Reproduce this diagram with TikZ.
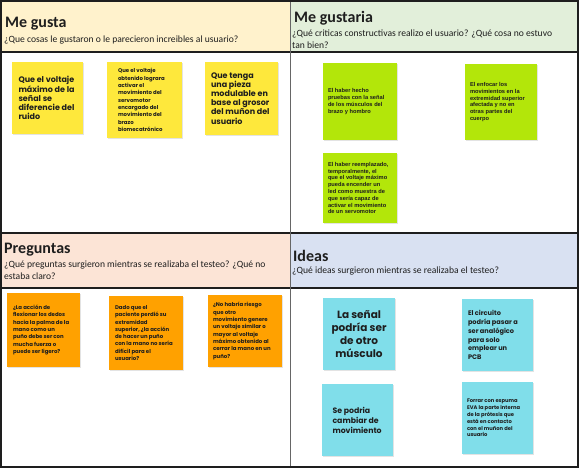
\documentclass[tikz,border=0pt]{standalone}
\usepackage{fontspec}
\setmainfont{Carlito}
\newfontfamily\notefont{Poppins}
\newfontfamily\arialfont{Liberation Sans}
\usetikzlibrary{shadows}
\definecolor{hdrY}{HTML}{FFF2CC}
\definecolor{hdrG}{HTML}{E2EFDA}
\definecolor{hdrP}{HTML}{FCE4D6}
\definecolor{hdrB}{HTML}{D9E1F2}
\definecolor{stickY}{HTML}{FEE83C}
\definecolor{stickG}{HTML}{B3E60A}
\definecolor{stickO}{HTML}{FFA100}
\definecolor{stickB}{HTML}{80DEEA}
\definecolor{ink}{HTML}{1E1E1E}
\begin{document}
\begin{tikzpicture}[x=1pt,y=-1pt,
  hdrtitle/.style={anchor=base west, inner sep=0pt, font=\bfseries\fontsize{16}{18}\selectfont, text=ink},
  hdrsub/.style={anchor=base west, inner sep=0pt, font=\fontsize{9.6}{12}\selectfont, text=ink},
  note/.style={draw=none, inner sep=0pt, drop shadow={opacity=0.22, shadow xshift=0.6pt, shadow yshift=-0.9pt}},
  ntext/.style={anchor=west, inner sep=0pt, align=left, text=ink},
  big/.style={font=\notefont\bfseries\fontsize{8}{9.1}\selectfont},
  mid/.style={font=\notefont\bfseries\fontsize{6.6}{8.9}\selectfont},
  small/.style={font=\notefont\bfseries\fontsize{5.4}{7.3}\selectfont},
  tiny/.style={font=\arialfont\bfseries\fontsize{5.7}{6.8}\selectfont}
]
\useasboundingbox (0,0) rectangle (580,469);
\fill[white] (0,0) rectangle (580,469);
% header bands
\fill[hdrY] (1,1) rectangle (290,52);
\fill[hdrG] (290,1) rectangle (578,53);
\fill[hdrP] (1,233) rectangle (290,288);
\fill[hdrB] (290,233) rectangle (578,288);
% lines
\draw[line width=1.4pt, ink] (1,52) -- (578,52);
\draw[line width=1.4pt, ink] (1,233) -- (578,233);
\draw[line width=1.4pt, ink] (1,288) -- (578,288);
\draw[line width=0.6pt, gray!80!black] (290,1) -- (290,467);
\draw[line width=2pt, ink] (1,1) rectangle (578,467);
% header texts
\node[hdrtitle] (t1) at (5,27) {Me gusta};
\node[hdrsub] (s1) at (4,42) {¿Que cosas le gustaron o le parecieron increibles al usuario?};
\node[hdrtitle] (t2) at (294,22) {Me gustaria};
\node[hdrsub] (s2a) at (292,36) {¿Qué criticas constructivas realizo el usuario? ¿Qué cosa no estuvo};
\node[hdrsub] (s2b) at (292,48) {tan bien?};
\node[hdrtitle] (t3) at (4,253) {Preguntas};
\node[hdrsub] (s3a) at (4,267) {¿Qué preguntas surgieron mientras se realizaba el testeo? ¿Qué no};
\node[hdrsub] (s3b) at (4,279) {estaba claro?};
\node[hdrtitle] (t4) at (293,261) {Ideas};
\node[hdrsub] (s4) at (292,273) {¿Qué ideas surgieron mientras se realizaba el testeo?};
% yellow notes
\node[note, fill=stickY, minimum width=71, minimum height=72] (y1) at (47.5,98) {};
\node[ntext, big] (y1t) at ([xshift=6.5pt]y1.west) {Que el voltaje\\máximo de la\\señal se\\diferencie del\\ruido};
\node[note, fill=stickY, minimum width=75, minimum height=76] (y2) at (144.5,100) {};
\node[ntext, small] (y2t) at ([xshift=11pt]y2.west) {Que el voltaje\\obtenido lograra\\activar el\\movimiento del\\servomotor\\encargado del\\movimiento del\\brazo\\biomecatrónico};
\node[note, fill=stickY, minimum width=73, minimum height=73] (y3) at (241.5,98.5) {};
\node[ntext, big] (y3t) at ([xshift=6pt]y3.west) {Que tenga\\una pieza\\modulable en\\base al grosor\\del muñon del\\usuario};
% green notes
\node[note, fill=stickG, minimum width=74, minimum height=77] (g1) at (360,101.5) {};
\node[ntext, tiny] (g1t) at ([xshift=5pt]g1.west) {El haber hecho\\pruebas con la señal\\de los músculos del\\brazo y hombro};
\node[note, fill=stickG, minimum width=72, minimum height=76] (g2) at (501,102) {};
\node[ntext, tiny] (g2t) at ([xshift=5pt]g2.west) {El enfocar los\\movimientos en la\\extremidad superior\\afectada y no en\\otras partes del\\cuerpo};
\node[note, fill=stickG, minimum width=74, minimum height=70] (g3) at (360,188) {};
\node[ntext, tiny] (g3t) at ([xshift=5pt]g3.west) {El haber reemplazado,\\temporalmente, el\\que el voltaje máximo\\pueda encender un\\led como muestra de\\que sería capaz de\\activar el movimiento\\de un servomotor};
% orange notes
\node[note, fill=stickO, minimum width=73, minimum height=74] (o1) at (43.5,330) {};
\node[ntext, small] (o1t) at ([xshift=6pt]o1.west) {¿La acción de\\flexionar los dedos\\hacia la palma de la\\mano como un\\puño debe ser con\\mucha fuerza o\\puede ser ligero?};
\node[note, fill=stickO, minimum width=74, minimum height=74] (o2) at (146,333) {};
\node[ntext, small] (o2t) at ([xshift=6pt]o2.west) {Dado que el\\paciente perdió su\\extremidad\\superior, ¿la acción\\de hacer un puño\\con la mano no sería\\difícil para el\\usuario?};
\node[note, fill=stickO, minimum width=74, minimum height=72] (o3) at (245,331) {};
\node[ntext, small] (o3t) at ([xshift=5pt]o3.west) {¿No habría riesgo\\que otro\\movimiento genere\\un voltaje similar o\\mayor al voltaje\\máximo obtenido al\\cerrar la mano en un\\puño?};
% blue notes
\node[note, fill=stickB, minimum width=72, minimum height=72] (b1) at (359,334) {};
\node[inner sep=0pt, align=center, text=ink, font=\notefont\bfseries\fontsize{10.5}{13}\selectfont] (b1t) at (b1.center) {La señal\\podría ser\\de otro\\músculo};
\node[note, fill=stickB, minimum width=71, minimum height=72] (b2) at (497.5,335) {};
\node[ntext, mid] (b2t) at ([xshift=6pt]b2.west) {El circuito\\podría pasar a\\ser analógico\\para solo\\emplear un\\PCB};
\node[note, fill=stickB, minimum width=71, minimum height=72] (b3) at (357.5,420) {};
\node[ntext, font=\notefont\bfseries\fontsize{7.8}{10}\selectfont] (b3t) at ([xshift=10.5pt]b3.west) {Se podria\\cambiar de\\movimiento};
\node[note, fill=stickB, minimum width=71, minimum height=72] (b4) at (497.5,418) {};
\node[ntext, font=\notefont\bfseries\fontsize{5.2}{6.8}\selectfont] (b4t) at ([xshift=5pt]b4.west) {Forrar con espuma\\EVA la parte interna\\de la prótesis que\\está en contacto\\con el muñon del\\usuario};
\end{tikzpicture}
\end{document}
